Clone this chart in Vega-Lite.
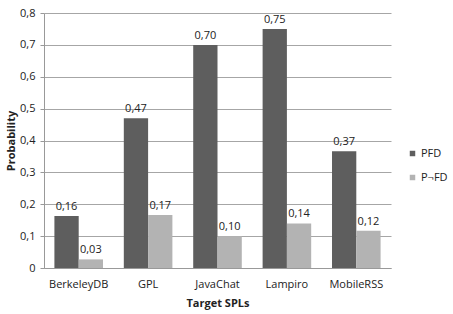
{
  "$schema": "https://vega.github.io/schema/vega-lite/v6.json",
  "width": 347,
  "height": 255,
  "autosize": {"type": "none"},
  "padding": {"left": 44, "top": 13, "right": 62, "bottom": 46},
  "background": "white",
  "config": {
    "locale": {"number": {"decimal": ",", "thousands": ".", "grouping": [3], "currency": ["", ""]}},
    "font": "Open Sans",
    "view": {"stroke": null}
  },
  "data": {
    "values": [
      {"spl": "BerkeleyDB", "series": "PFD", "value": 0.163},
      {"spl": "BerkeleyDB", "series": "P¬FD", "value": 0.027},
      {"spl": "GPL", "series": "PFD", "value": 0.47},
      {"spl": "GPL", "series": "P¬FD", "value": 0.166},
      {"spl": "JavaChat", "series": "PFD", "value": 0.70},
      {"spl": "JavaChat", "series": "P¬FD", "value": 0.10},
      {"spl": "Lampiro", "series": "PFD", "value": 0.75},
      {"spl": "Lampiro", "series": "P¬FD", "value": 0.14},
      {"spl": "MobileRSS", "series": "PFD", "value": 0.366},
      {"spl": "MobileRSS", "series": "P¬FD", "value": 0.117}
    ]
  },
  "encoding": {
    "x": {
      "field": "spl", "type": "nominal", "sort": null,
      "scale": {"paddingInner": 0.3, "paddingOuter": 0.15},
      "axis": {
        "title": "Target SPLs", "titleFontSize": 11, "titleFontWeight": "bold", "titleColor": "#222",
        "titlePadding": 8,
        "labelAngle": 0, "labelFontSize": 11, "labelColor": "#222", "labelPadding": 10,
        "ticks": false, "domainColor": "#999", "grid": false
      }
    },
    "xOffset": {"field": "series", "type": "nominal", "sort": ["PFD", "P¬FD"]},
    "y": {
      "field": "value", "type": "quantitative",
      "scale": {"domain": [0, 0.8], "nice": false},
      "axis": {
        "title": "Probability", "titleFontSize": 11, "titleFontWeight": "bold", "titleColor": "#222",
        "titlePadding": 3,
        "values": [0, 0.1, 0.2, 0.3, 0.4, 0.5, 0.6, 0.7, 0.8],
        "format": ".1~f", "labelFontSize": 11, "labelColor": "#222", "labelPadding": 5,
        "tickSize": 4, "tickColor": "#999", "domainColor": "#999",
        "gridColor": "#a6a6a6", "gridWidth": 1
      }
    }
  },
  "layer": [
    {
      "mark": {"type": "bar"},
      "encoding": {
        "color": {
          "field": "series", "type": "nominal", "sort": ["PFD", "P¬FD"],
          "scale": {"domain": ["PFD", "P¬FD"], "range": ["#5e5e5e", "#b3b3b3"]},
          "legend": {
            "title": null, "orient": "none", "legendX": 363, "legendY": 135,
            "symbolType": "square", "symbolSize": 30, "labelFontSize": 11, "labelColor": "#222",
            "rowPadding": 12, "labelOffset": 3
          }
        }
      }
    },
    {
      "mark": {"type": "text", "dy": -9, "fontSize": 11, "color": "#222"},
      "encoding": {
        "text": {"field": "value", "type": "quantitative", "format": ".2f"}
      }
    }
  ]
}
